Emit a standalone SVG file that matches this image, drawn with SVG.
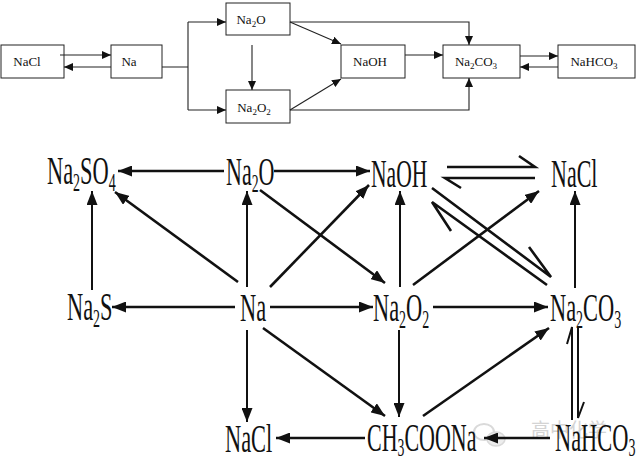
<svg xmlns="http://www.w3.org/2000/svg" width="640" height="463" viewBox="0 0 640 463">
<style>
.box{fill:#fff;stroke:#222;stroke-width:1}
.tt{font-family:"Liberation Serif","Times New Roman",serif;font-size:13px;fill:#111;text-anchor:middle}
.ts{font-size:9px}
.tl{fill:none;stroke:#222;stroke-width:1.1}
.bt{font-family:"Liberation Serif","Times New Roman",serif;font-size:40px;fill:#111}
.bs{font-size:25px}
.bl{fill:none;stroke:#111;stroke-width:2.6}
.bv{fill:none;stroke:#111;stroke-width:2}
.wm{font-family:"Noto Sans CJK SC",sans-serif;font-size:19px;fill:#d0d0d0}
</style>
<defs>
<marker id="at" markerUnits="userSpaceOnUse" markerWidth="9" markerHeight="8" refX="9" refY="4" orient="auto"><path d="M0,0 L9,4 L0,8 z" fill="#111"/></marker>
<marker id="ab" markerUnits="userSpaceOnUse" markerWidth="14" markerHeight="11" refX="14" refY="5.5" orient="auto"><path d="M0,0 L14,5.5 L0,11 z" fill="#111"/></marker>
</defs>
<rect width="640" height="463" fill="#fff"/>

<!-- top diagram nodes -->
<g id="t-nacl"><rect class="box" x="1" y="45" width="63" height="33"/><text class="tt" x="27" y="66">NaCl</text></g>
<g id="t-na"><rect class="box" x="111" y="45" width="51" height="33"/><text class="tt" x="129" y="66">Na</text></g>
<g id="t-na2o"><rect class="box" x="226" y="3" width="64" height="32"/><text class="tt" x="251" y="24">Na<tspan class="ts" dy="3">2</tspan><tspan dy="-3">O</tspan></text></g>
<g id="t-na2o2"><rect class="box" x="226" y="90" width="64" height="33"/><text class="tt" x="254" y="112">Na<tspan class="ts" dy="3">2</tspan><tspan dy="-3">O</tspan><tspan class="ts" dy="3">2</tspan></text></g>
<g id="t-naoh"><rect class="box" x="341" y="45" width="64" height="33"/><text class="tt" x="370" y="66">NaOH</text></g>
<g id="t-na2co3"><rect class="box" x="443" y="45" width="77" height="33"/><text class="tt" x="476" y="66">Na<tspan class="ts" dy="3">2</tspan><tspan dy="-3">CO</tspan><tspan class="ts" dy="3">3</tspan></text></g>
<g id="t-nahco3"><rect class="box" x="558" y="45" width="77" height="33"/><text class="tt" x="594" y="66">NaHCO<tspan class="ts" dy="3">3</tspan></text></g>

<g id="top-connectors">
<path class="tl" d="M60,55 L111,55" marker-end="url(#at)"/>
<path class="tl" d="M111,67 L64,67" marker-end="url(#at)"/>
<path class="tl" d="M162,67 L188,67 M188,22 L188,110"/>
<path class="tl" d="M188,22 L226,22" marker-end="url(#at)"/>
<path class="tl" d="M188,110 L226,110" marker-end="url(#at)"/>
<path class="tl" d="M252,45 L252,90" marker-end="url(#at)"/>
<path class="tl" d="M290,22 L341,44" marker-end="url(#at)"/>
<path class="tl" d="M290,110 L341,79" marker-end="url(#at)"/>
<path class="tl" d="M290,22 L469,22 L469,45" marker-end="url(#at)"/>
<path class="tl" d="M290,110 L469,110 L469,78" marker-end="url(#at)"/>
<path class="tl" d="M405,55 L443,55" marker-end="url(#at)"/>
<path class="tl" d="M520,56 L558,56" marker-end="url(#at)"/>
<path class="tl" d="M558,67 L520,67" marker-end="url(#at)"/>
</g>

<!-- watermark -->
<g id="watermark" opacity="0.9">
<ellipse cx="484" cy="432" rx="10" ry="8" fill="none" stroke="#d6d6d6" stroke-width="2"/>
<ellipse cx="496" cy="439" rx="9" ry="7" fill="#ececec" stroke="#d6d6d6" stroke-width="1.5"/>
<text class="wm" x="531" y="437">高中化学</text>
</g>

<!-- bottom diagram nodes -->
<g id="b-na2so4"><text class="bt" transform="translate(47,184) scale(0.56,1)">Na<tspan class="bs" dy="7">2</tspan><tspan dy="-7">SO</tspan><tspan class="bs" dy="7">4</tspan></text></g>
<g id="b-na2o"><text class="bt" transform="translate(226,185) scale(0.55,1)">Na<tspan class="bs" dy="7">2</tspan><tspan dy="-7">O</tspan></text></g>
<g id="b-naoh"><text class="bt" transform="translate(371,187) scale(0.54,1)">NaOH</text></g>
<g id="b-nacl1"><text class="bt" transform="translate(551,187) scale(0.55,1)">NaCl</text></g>
<g id="b-na2s"><text class="bt" transform="translate(67,320) scale(0.56,1)">Na<tspan class="bs" dy="7">2</tspan><tspan dy="-7">S</tspan></text></g>
<g id="b-na"><text class="bt" transform="translate(240,321) scale(0.56,1)">Na</text></g>
<g id="b-na2o2"><text class="bt" transform="translate(373,321) scale(0.56,1)">Na<tspan class="bs" dy="7">2</tspan><tspan dy="-7">O</tspan><tspan class="bs" dy="7">2</tspan></text></g>
<g id="b-na2co3"><text class="bt" transform="translate(550,321) scale(0.56,1)">Na<tspan class="bs" dy="7">2</tspan><tspan dy="-7">CO</tspan><tspan class="bs" dy="7">3</tspan></text></g>
<g id="b-nacl2"><text class="bt" transform="translate(225,452) scale(0.56,1)">NaCl</text></g>
<g id="b-ch3coona"><text class="bt" transform="translate(367,451) scale(0.55,1)">CH<tspan class="bs" dy="5">3</tspan><tspan dy="-5">COONa</tspan></text></g>
<g id="b-nahco3"><text class="bt" transform="translate(555,451) scale(0.56,1)">NaHCO<tspan class="bs" dy="5">3</tspan></text></g>

<g id="bottom-connectors">
<path class="bl" d="M224,171 L118,171" marker-end="url(#ab)"/>
<path class="bl" d="M274,171 L370,171" marker-end="url(#ab)"/>
<!-- NaOH <=> NaCl -->
<path class="bl" d="M447,167 L535,167 L519,156"/>
<path class="bl" d="M535,178 L445,178 L461,188"/>
<!-- verticals to row 1 -->
<path class="bv" d="M92,290 L92,191" marker-end="url(#ab)"/>
<path class="bv" d="M247,287 L247,191" marker-end="url(#ab)"/>
<path class="bv" d="M400,287 L400,191" marker-end="url(#ab)"/>
<path class="bv" d="M575,288 L575,191" marker-end="url(#ab)"/>
<!-- diagonals upper -->
<path class="bl" d="M238,282 L115,192" marker-end="url(#ab)"/>
<path class="bl" d="M260,190 L385,283" marker-end="url(#ab)"/>
<path class="bl" d="M270,287 L369,185" marker-end="url(#ab)"/>
<path class="bl" d="M413,285 L539,191" marker-end="url(#ab)"/>
<!-- NaOH <=> Na2CO3 -->
<path class="bl" d="M432,188 L551,277 L529,247"/>
<path class="bl" d="M547,285 L432,202 L451,231"/>
<!-- row 2 -->
<path class="bl" d="M235,307 L112,307" marker-end="url(#ab)"/>
<path class="bl" d="M270,307 L373,307" marker-end="url(#ab)"/>
<path class="bl" d="M433,307 L548,307" marker-end="url(#ab)"/>
<!-- lower -->
<path class="bl" d="M263,328 L385,416" marker-end="url(#ab)"/>
<path class="bv" d="M247,330 L247,422" marker-end="url(#ab)"/>
<path class="bv" d="M399,330 L399,417" marker-end="url(#ab)"/>
<path class="bl" d="M423,416 L549,328" marker-end="url(#ab)"/>
<!-- Na2CO3 <=> NaHCO3 -->
<path class="bv" d="M567,344 L572,327 L572,420"/>
<path class="bv" d="M578,327 L578,418 L584,402"/>
<!-- row 3 -->
<path class="bl" d="M550,438 L484,438" marker-end="url(#ab)"/>
<path class="bl" d="M365,438 L276,438" marker-end="url(#ab)"/>
</g>
</svg>
